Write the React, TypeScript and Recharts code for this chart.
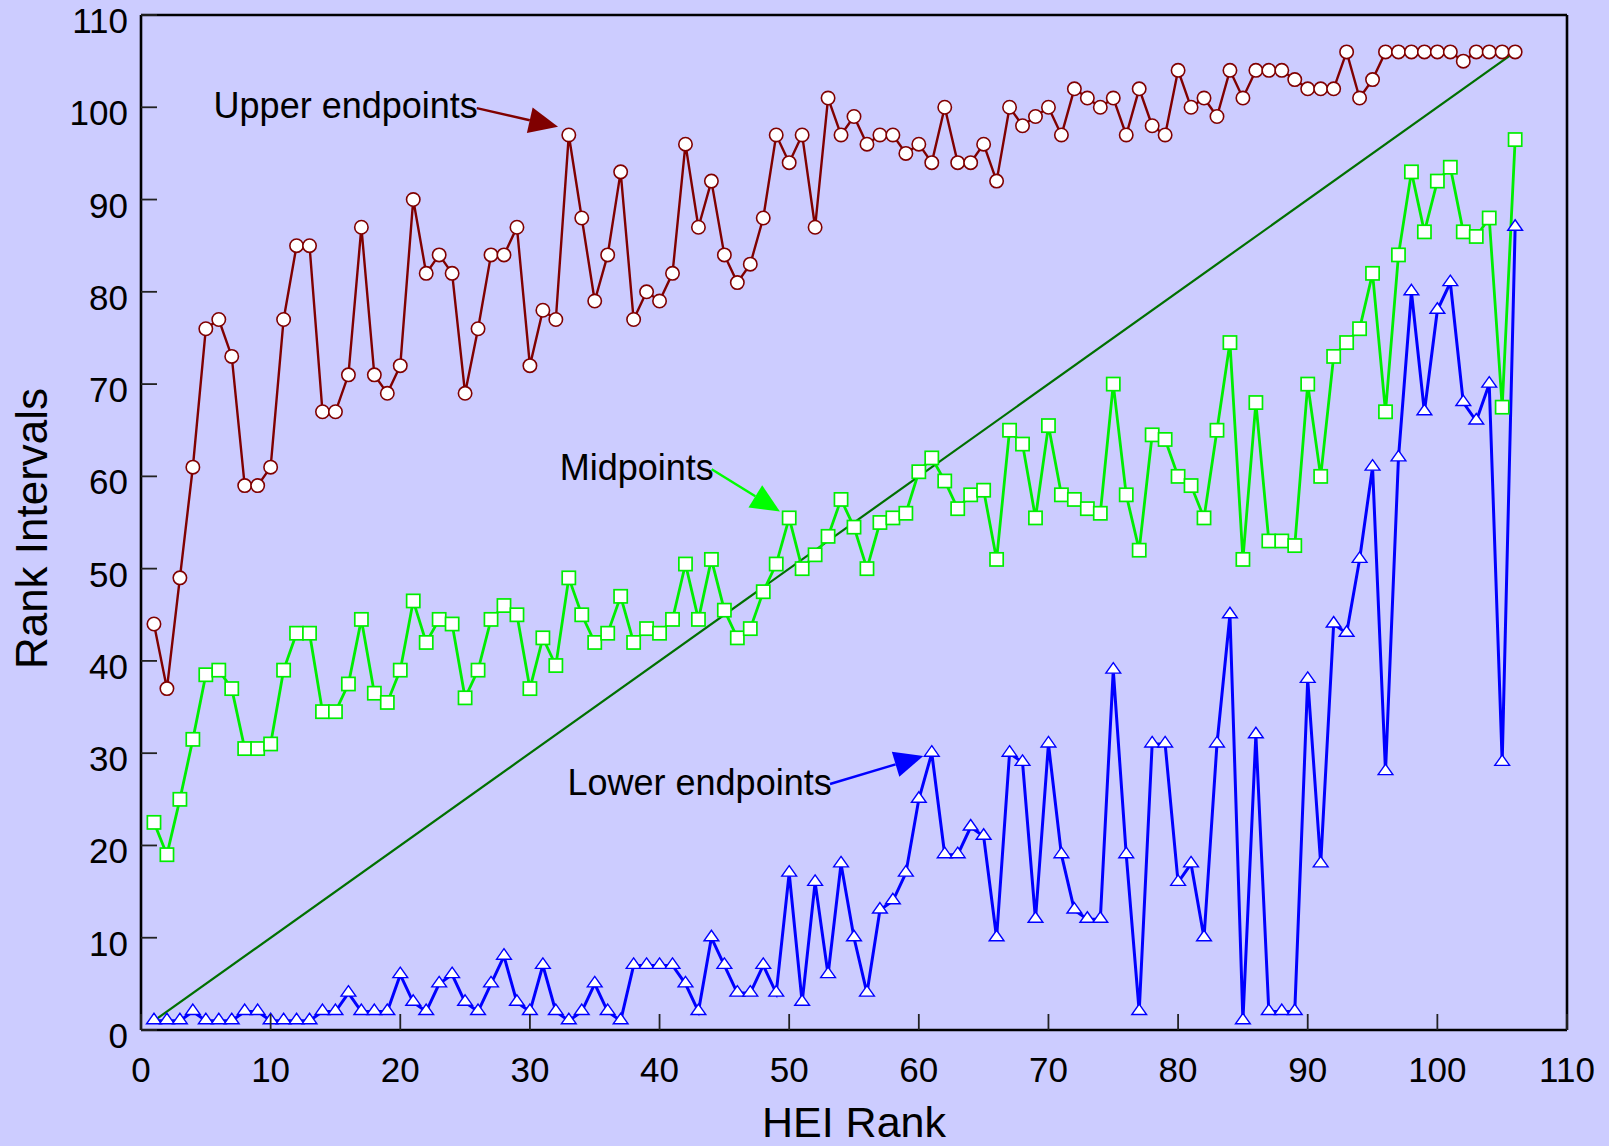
import React from 'react';
import { LineChart, Line, XAxis, YAxis, ReferenceLine, ReferenceDot } from 'recharts';

const ranks: number[] = Array.from({ length: 106 }, (_, i) => i + 1);

const upperEndpoints: number[] = [
  44, 37, 49, 61, 76, 77, 73, 59, 59, 61,
  77, 85, 85, 67, 67, 71, 87, 71, 69, 72,
  90, 82, 84, 82, 69, 76, 84, 84, 87, 72,
  78, 77, 97, 88, 79, 84, 93, 77, 80, 79,
  82, 96, 87, 92, 84, 81, 83, 88, 97, 94,
  97, 87, 101, 97, 99, 96, 97, 97, 95, 96,
  94, 100, 94, 94, 96, 92, 100, 98, 99, 100,
  97, 102, 101, 100, 101, 97, 102, 98, 97, 104,
  100, 101, 99, 104, 101, 104, 104, 104, 103, 102,
  102, 102, 106, 101, 103, 106, 106, 106, 106, 106,
  106, 105, 106, 106, 106, 106,
];

const midpoints: number[] = [
  22.5, 19, 25, 31.5, 38.5, 39, 37, 30.5, 30.5, 31,
  39, 43, 43, 34.5, 34.5, 37.5, 44.5, 36.5, 35.5, 39,
  46.5, 42, 44.5, 44, 36, 39, 44.5, 46, 45, 37,
  42.5, 39.5, 49, 45, 42, 43, 47, 42, 43.5, 43,
  44.5, 50.5, 44.5, 51, 45.5, 42.5, 43.5, 47.5, 50.5, 55.5,
  50, 51.5, 53.5, 57.5, 54.5, 50, 55, 55.5, 56, 60.5,
  62, 59.5, 56.5, 58, 58.5, 51, 65, 63.5, 55.5, 65.5,
  58, 57.5, 56.5, 56, 70, 58, 52, 64.5, 64, 60,
  59, 55.5, 65, 74.5, 51, 68, 53, 53, 52.5, 70,
  60, 73, 74.5, 76, 82, 67, 84, 93, 86.5, 92,
  93.5, 86.5, 86, 88, 67.5, 96.5,
];

const lowerEndpoints: number[] = [
  1, 1, 1, 2, 1, 1, 1, 2, 2, 1,
  1, 1, 1, 2, 2, 4, 2, 2, 2, 6,
  3, 2, 5, 6, 3, 2, 5, 8, 3, 2,
  7, 2, 1, 2, 5, 2, 1, 7, 7, 7,
  7, 5, 2, 10, 7, 4, 4, 7, 4, 17,
  3, 16, 6, 18, 10, 4, 13, 14, 17, 25,
  30, 19, 19, 22, 21, 10, 30, 29, 12, 31,
  19, 13, 12, 12, 39, 19, 2, 31, 31, 16,
  18, 10, 31, 45, 1, 32, 2, 2, 2, 38,
  18, 44, 43, 51, 61, 28, 62, 80, 67, 78,
  81, 68, 66, 70, 29, 87,
];

const axisTicks: number[] = [0, 10, 20, 30, 40, 50, 60, 70, 80, 90, 100, 110];

const diagonal = [
  { x: 1, y: 1 },
  { x: 106, y: 106 },
];

const annotations = [
  { text: 'Upper endpoints', tx: 5.6, ty: 98.8, ax1: 25.9, ay1: 99.9, ax2: 32.17, ay2: 97.9, color: '#800000' },
  { text: 'Midpoints', tx: 32.3, ty: 59.6, ax1: 44.02, ay1: 60.77, ax2: 49.29, ay2: 56.18, color: '#00ff00' },
  { text: 'Lower endpoints', tx: 32.9, ty: 25.47, ax1: 53.15, ay1: 26.66, ax2: 60.35, ay2: 29.7, color: '#0000ff' },
];

const tableData = ranks.map((r, i) => ({
  rank: r,
  upper: upperEndpoints[i],
  mid: midpoints[i],
  lower: lowerEndpoints[i],
}));

const FONT = '"Liberation Sans", Arial, Helvetica, sans-serif';
const BG = '#ccccff';

const XTick = (props: any) => {
  const { x, y, payload } = props;
  return (
    <g>
      <line x1={x} y1={y} x2={x} y2={y - 16} stroke="#222" strokeWidth={1.8} />
      <text x={x} y={y + 52} textAnchor="middle" fontSize={35} fill="#000" fontFamily={FONT}>
        {payload.value}
      </text>
    </g>
  );
};

const YTick = (props: any) => {
  const { x, y, payload } = props;
  return (
    <g>
      <line x1={x} y1={y} x2={x + 16} y2={y} stroke="#222" strokeWidth={1.8} />
      <text x={x - 13} y={y + 18} textAnchor="end" fontSize={35} fill="#000" fontFamily={FONT}>
        {payload.value}
      </text>
    </g>
  );
};

const CircleDot = (props: any) => {
  const { cx, cy, index } = props;
  return <circle key={`c-${index}`} cx={cx} cy={cy} r={6.7} fill="#fff" stroke="#800000" strokeWidth={1.6} />;
};

const SquareDot = (props: any) => {
  const { cx, cy, index } = props;
  return (
    <rect key={`s-${index}`} x={cx - 6.6} y={cy - 6.6} width={13.2} height={13.2} fill="#fff" stroke="#00ee00" strokeWidth={1.7} />
  );
};

const TriangleDot = (props: any) => {
  const { cx, cy, index } = props;
  return (
    <polygon
      key={`t-${index}`}
      points={`${cx},${cy - 7.5} ${cx + 7.4},${cy + 3} ${cx - 7.4},${cy + 3}`}
      fill="#fff"
      stroke="#0000ff"
      strokeWidth={1.4}
    />
  );
};

const makeArrow = (color: string) => (p: any) => {
  const { x1, y1, x2, y2 } = p;
  const dx = x2 - x1;
  const dy = y2 - y1;
  const len = Math.sqrt(dx * dx + dy * dy) || 1;
  const ux = dx / len;
  const uy = dy / len;
  const hl = 29;
  const hw = 13;
  const bx = x2 - ux * hl;
  const by = y2 - uy * hl;
  const pts = `${x2},${y2} ${bx - uy * hw},${by + ux * hw} ${bx + uy * hw},${by - ux * hw}`;
  return (
    <g>
      <line x1={x1} y1={y1} x2={bx} y2={by} stroke={color} strokeWidth={2.4} />
      <polygon points={pts} fill={color} stroke="none" />
    </g>
  );
};

const makeLabel = (text: string) => (p: any) => {
  const { cx, cy } = p;
  return (
    <text x={cx} y={cy} textAnchor="start" fontSize={36} fill="#000" fontFamily={FONT}>
      {text}
    </text>
  );
};

const YTitle = (props: any) => {
  const vb = props.viewBox || {};
  const cy = (vb.y ?? 15) + (vb.height ?? 1015) / 2 + 6;
  const cx = 47;
  return (
    <text
      x={cx}
      y={cy}
      textAnchor="middle"
      fontSize={44}
      fill="#000"
      fontFamily={FONT}
      transform={`rotate(-90, ${cx}, ${cy})`}
    >
      Rank Intervals
    </text>
  );
};

const XTitle = (props: any) => {
  const vb = props.viewBox || {};
  const cx = (vb.x ?? 141) + (vb.width ?? 1426) / 2;
  return (
    <text x={cx} y={1137} textAnchor="middle" fontSize={43} fill="#000" fontFamily={FONT}>
      HEI Rank
    </text>
  );
};

export default function App() {
  return (
    <div
      style={{
        position: 'absolute',
        left: 0,
        top: 0,
        width: 1609,
        height: 1146,
        background: BG,
        overflow: 'hidden',
      }}
    >
      <LineChart
        width={1609}
        height={1146}
        data={tableData}
        margin={{ top: 15, right: 42, bottom: 0, left: 0 }}
      >
        <XAxis
          type="number"
          dataKey="rank"
          domain={[0, 110]}
          ticks={axisTicks}
          interval={0}
          height={116}
          tickSize={0}
          tickMargin={0}
          tick={<XTick />}
          axisLine={{ stroke: '#000', strokeWidth: 2.6 }}
          tickLine={false}
          allowDataOverflow
          label={<XTitle />}
        />
        <YAxis
          type="number"
          domain={[0, 110]}
          ticks={axisTicks}
          interval={0}
          width={141}
          tickSize={0}
          tickMargin={0}
          tick={<YTick />}
          axisLine={{ stroke: '#000', strokeWidth: 2.6 }}
          tickLine={false}
          allowDataOverflow
          label={<YTitle />}
        />
        <ReferenceLine y={110} stroke="#000" strokeWidth={2.6} ifOverflow="extendDomain" />
        <ReferenceLine x={110} stroke="#000" strokeWidth={2.6} ifOverflow="extendDomain" />
        <ReferenceLine
          segment={[diagonal[0], diagonal[1]]}
          stroke="#007000"
          strokeWidth={2.2}
          ifOverflow="visible"
        />
        <Line
          type="linear"
          dataKey="lower"
          stroke="#0000ff"
          strokeWidth={3}
          dot={TriangleDot}
          activeDot={false}
          isAnimationActive={false}
        />
        <Line
          type="linear"
          dataKey="mid"
          stroke="#00ee00"
          strokeWidth={2.8}
          dot={SquareDot}
          activeDot={false}
          isAnimationActive={false}
        />
        <Line
          type="linear"
          dataKey="upper"
          stroke="#800000"
          strokeWidth={2.4}
          dot={CircleDot}
          activeDot={false}
          isAnimationActive={false}
        />
        {annotations.map((a) => (
          <ReferenceLine
            key={`arrow-${a.text}`}
            segment={[{ x: a.ax1, y: a.ay1 }, { x: a.ax2, y: a.ay2 }]}
            stroke={a.color}
            ifOverflow="visible"
            shape={makeArrow(a.color)}
          />
        ))}
        {annotations.map((a) => (
          <ReferenceDot
            key={`label-${a.text}`}
            x={a.tx}
            y={a.ty}
            r={1}
            ifOverflow="visible"
            shape={makeLabel(a.text)}
          />
        ))}
      </LineChart>
    </div>
  );
}
